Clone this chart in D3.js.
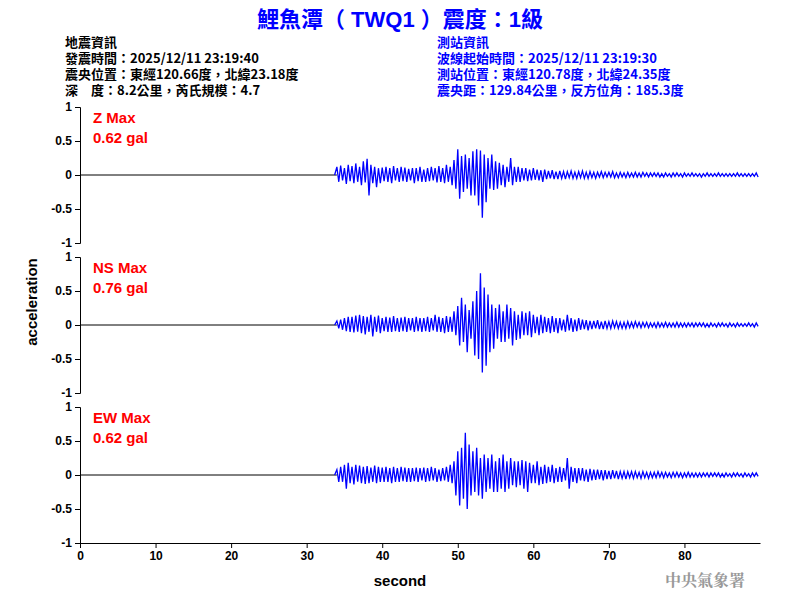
<!DOCTYPE html>
<html>
<head>
<meta charset="utf-8">
<script src="https://cdn.jsdelivr.net/npm/d3@7"></script>
<style>
body { margin: 0; background: #fff; }
text { font-family: Arial, "Liberation Sans", "Noto Sans CJK TC", sans-serif; }
</style>
</head>
<body>
<div id="chart"></div>
<script>
// trace samples start at t0 seconds, every dt seconds (signed peaks, gal)
var t0 = 34, dt = 0.25;
var channels = ["Z", "NS", "EW"];
var maxLabels = ["0.62 gal", "0.76 gal", "0.62 gal"];
var zValues = [
  .12,-.1,.14,-.08,.1,-.13,.15,-.09,
  .13,-.12,.17,-.1,.12,-.15,.2,-.11,
  .24,-.3,.15,-.12,.12,-.18,.1,-.12,
  .11,-.09,.12,-.1,.1,-.12,.13,-.08,
  .1,-.1,.12,-.09,.11,-.1,.09,-.08,
  .1,-.12,.1,-.09,.12,-.1,.08,-.1,
  .1,-.09,.12,-.08,.1,-.11,.13,-.1,
  .1,-.12,.15,-.1,.12,-.15,.22,-.2,
  .38,-.35,.28,-.25,.3,-.2,.25,-.3,
  .35,-.3,.38,-.45,.36,-.63,.3,-.4,
  .25,-.2,.3,-.22,.2,-.2,.18,-.15,
  .15,-.18,.12,-.1,.25,-.15,.12,-.1,
  .12,-.1,.1,-.08,.1,-.09,.08,-.08,
  .1,-.07,.08,-.08,.07,-.1,.08,-.06,
  .06,-.05,.07,-.06,.05,-.06,.06,-.05,
  .05,-.06,.05,-.04,.06,-.05,.04,-.05,
  .05,-.04,.06,-.05,.04,-.05,.05,-.04,
  .04,-.05,.04,-.03,.05,-.04,.04,-.03,
  .04,-.03,.05,-.04,.03,-.04,.04,-.03,
  .03,-.04,.04,-.03,.03,-.03,.04,-.03,
  .03,-.03,.04,-.02,.03,-.03,.03,-.02,
  .03,-.02,.03,-.03,.02,-.03,.03,-.02,
  .02,-.03,.03,-.02,.03,-.02,.02,-.03,
  .03,-.02,.02,-.02,.03,-.02,.02,-.02,
  .02,-.03,.02,-.02,.03,-.02,.02,-.02,
  .02,-.02,.03,-.02,.02,-.02,.02,-.02,
  .02,-.02,.02,-.02,.03,-.02,.02,-.02,
  .02,-.02,.02,-.02,.02,-.02,.03,-.03
];
var nsValues = [
  .06,-.05,.08,-.07,.1,-.09,.12,-.1,
  .12,-.11,.14,-.1,.15,-.12,.13,-.14,
  .12,-.1,.15,-.17,.12,-.1,.14,-.12,
  .1,-.09,.12,-.1,.11,-.1,.13,-.09,
  .1,-.1,.11,-.09,.12,-.1,.1,-.08,
  .1,-.1,.12,-.09,.1,-.1,.1,-.09,
  .12,-.1,.1,-.08,.15,-.1,.12,-.1,
  .1,-.12,.13,-.1,.12,-.1,.2,-.15,
  .28,-.3,.4,-.25,.3,-.4,.22,-.2,
  .35,-.45,.5,-.5,.76,-.7,.55,-.6,
  .45,-.4,.3,-.35,.25,-.2,.3,-.25,
  .2,-.25,.3,-.2,.25,-.3,.2,-.22,
  .15,-.2,.2,-.15,.18,-.15,.2,-.18,
  .15,-.12,.12,-.15,.15,-.12,.12,-.1,
  .1,-.12,.13,-.1,.1,-.12,.1,-.08,
  .08,-.1,.15,-.08,.1,-.1,.08,-.09,
  .1,-.07,.08,-.06,.07,-.08,.06,-.06,
  .06,-.05,.07,-.06,.05,-.06,.06,-.05,
  .05,-.05,.06,-.04,.05,-.05,.04,-.05,
  .04,-.05,.05,-.04,.04,-.04,.05,-.03,
  .04,-.04,.04,-.03,.04,-.04,.03,-.03,
  .03,-.04,.04,-.03,.03,-.03,.04,-.03,
  .03,-.03,.03,-.03,.04,-.03,.03,-.03,
  .03,-.03,.03,-.02,.03,-.03,.03,-.02,
  .03,-.02,.03,-.03,.02,-.03,.03,-.02,
  .02,-.03,.03,-.02,.03,-.02,.02,-.03,
  .03,-.02,.02,-.03,.03,-.02,.02,-.02,
  .02,-.02,.03,-.02,.02,-.03,.03,-.02
];
var ewValues = [
  .08,-.1,.12,-.1,.15,-.2,.18,-.12,
  .12,-.14,.15,-.1,.14,-.12,.12,-.13,
  .13,-.12,.11,-.1,.14,-.12,.12,-.1,
  .11,-.1,.12,-.1,.1,-.12,.12,-.1,
  .1,-.1,.12,-.09,.11,-.1,.1,-.1,
  .1,-.09,.11,-.1,.1,-.08,.11,-.1,
  .1,-.09,.12,-.08,.1,-.1,.08,-.09,
  .1,-.08,.12,-.1,.15,-.12,.2,-.3,
  .35,-.45,.4,-.35,.62,-.5,.45,-.3,
  .35,-.25,.4,-.3,.25,-.35,.3,-.25,
  .25,-.2,.3,-.25,.2,-.25,.25,-.2,
  .3,-.25,.2,-.2,.25,-.15,.2,-.18,
  .2,-.15,.22,-.2,.2,-.25,.18,-.12,
  .15,-.12,.2,-.15,.12,-.13,.15,-.12,
  .12,-.1,.15,-.12,.1,-.1,.12,-.1,
  .1,-.08,.25,-.2,.12,-.1,.1,-.12,
  .1,-.08,.1,-.09,.08,-.1,.09,-.08,
  .08,-.07,.08,-.06,.07,-.08,.07,-.06,
  .06,-.06,.07,-.05,.06,-.06,.05,-.05,
  .05,-.06,.05,-.04,.05,-.05,.05,-.04,
  .04,-.05,.05,-.04,.04,-.05,.04,-.04,
  .04,-.04,.05,-.03,.04,-.04,.04,-.03,
  .03,-.04,.04,-.03,.04,-.03,.03,-.04,
  .03,-.03,.04,-.03,.03,-.03,.03,-.03,
  .03,-.03,.03,-.02,.03,-.03,.03,-.02,
  .03,-.02,.03,-.03,.02,-.03,.03,-.02,
  .02,-.03,.03,-.02,.03,-.02,.02,-.03,
  .03,-.02,.02,-.03,.03,-.02,.03,-.02
];
var series = [zValues, nsValues, ewValues];
var yTicks = [1, 0.5, 0, -0.5, -1];
var xTicks = [0, 10, 20, 30, 40, 50, 60, 70, 80];
var leftInfo = ["地震資訊", "發震時間：2025/12/11 23:19:40", "震央位置：東經120.66度，北緯23.18度", "深　度：8.2公里，芮氏規模：4.7"];
var rightInfo = ["測站資訊", "波線起始時間：2025/12/11 23:19:30", "測站位置：東經120.78度，北緯24.35度", "震央距：129.84公里，反方位角：185.3度"];

var width = 800, height = 600;
var svg = d3.select("#chart").append("svg").attr("width", width).attr("height", height);

var x = d3.scaleLinear().domain([0, 90]).range([80, 760]);
var panelTop = [107, 257, 407];

svg.append("text").attr("x", 400).attr("y", 27).attr("text-anchor", "middle")
  .attr("fill", "#0000ff").attr("font-size", 22).attr("font-weight", "bold")
  .style("font-family", "Arial, 'Noto Sans CJK TC'")
  .text("鯉魚潭（ TWQ1 ）震度：1級");

leftInfo.forEach(function(s, i) {
  svg.append("text").attr("x", 65).attr("y", 47 + i * 16).attr("font-size", 13)
    .attr("font-weight", "bold").style("font-family", "'Noto Sans CJK TC', Arial").text(s);
});
rightInfo.forEach(function(s, i) {
  svg.append("text").attr("x", 437).attr("y", 47 + i * 16).attr("font-size", 13)
    .attr("font-weight", "bold").attr("fill", "#0000ff").style("font-family", "'Noto Sans CJK TC', Arial").text(s);
});

var line = d3.line().x(function(d) { return x(d[0]); }).y(function(d) { return d[1]; });

channels.forEach(function(ch, k) {
  var y = d3.scaleLinear().domain([-1, 1]).range([panelTop[k] + 136, panelTop[k]]);
  svg.append("g").attr("transform", "translate(80,0)")
    .call(d3.axisLeft(y).tickValues(yTicks).tickSize(5).tickFormat(function(d) { return String(d); }))
    .call(function(g) {
      g.selectAll("text").attr("font-size", 12).attr("font-weight", "bold").attr("fill", "#000");
      g.selectAll("line,path").attr("stroke", "#000");
    });
  svg.append("line").attr("x1", 80).attr("x2", x(t0)).attr("y1", y(0)).attr("y2", y(0))
    .attr("stroke", "#000").attr("stroke-width", 1);
  var pts = [];
  pts.push([t0 - 0.3, y(0)]);
  series[k].forEach(function(v, i) { pts.push([t0 + i * dt, y(v)]); });
  svg.append("path").attr("d", line(pts)).attr("fill", "none")
    .attr("stroke", "#0000ff").attr("stroke-width", 1.3);
  svg.append("text").attr("x", 93).attr("y", panelTop[k] + 16).attr("fill", "#ff0000")
    .attr("font-size", 15).attr("font-weight", "bold").text(ch + " Max");
  svg.append("text").attr("x", 93).attr("y", panelTop[k] + 36).attr("fill", "#ff0000")
    .attr("font-size", 15).attr("font-weight", "bold").text(maxLabels[k]);
});

svg.append("g").attr("transform", "translate(0,543)")
  .call(d3.axisBottom(x).tickValues(xTicks).tickSize(5).tickSizeOuter(0))
  .call(function(g) {
    g.selectAll("text").attr("font-size", 12).attr("font-weight", "bold").attr("fill", "#000");
    g.selectAll("line,path").attr("stroke", "#000");
  });

svg.append("text").attr("x", 400).attr("y", 586).attr("text-anchor", "middle")
  .attr("font-size", 15).attr("font-weight", "bold").text("second");
svg.append("text").attr("transform", "translate(37,302) rotate(-90)").attr("text-anchor", "middle")
  .attr("font-size", 15).attr("font-weight", "bold").text("acceleration");
svg.append("text").attr("x", 745).attr("y", 586).attr("text-anchor", "end")
  .attr("font-size", 16).attr("font-weight", "bold").attr("fill", "#999")
  .style("font-family", "'Noto Serif CJK TC', 'Noto Sans CJK TC'").text("中央氣象署");
</script>
</body>
</html>
